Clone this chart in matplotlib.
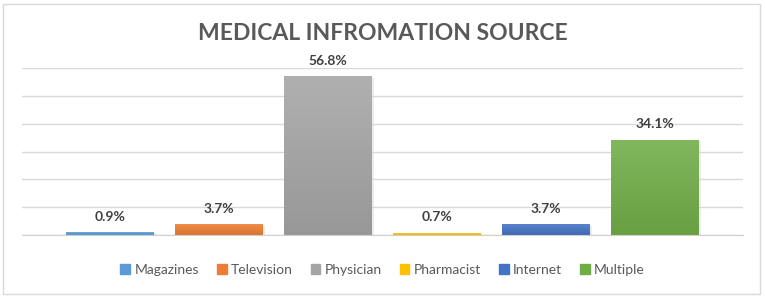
import numpy as np
import matplotlib.pyplot as plt
from matplotlib.patches import Rectangle
from matplotlib.colors import to_rgb

categories = ["Magazines", "Television", "Physician", "Pharmacist", "Internet", "Multiple"]
values = [0.9, 3.7, 56.8, 0.7, 3.7, 34.1]
labels = ["0.9%", "3.7%", "56.8%", "0.7%", "3.7%", "34.1%"]
colors = ["#5B9BD5", "#ED7D31", "#A5A5A5", "#FFC000", "#4472C4", "#70AD47"]

plt.rcParams['font.family'] = ['Lato', 'DejaVu Sans']

fig = plt.figure(figsize=(7.65, 2.98), dpi=100)
ax = fig.add_axes([22 / 765, 63 / 298, 721 / 765, 167 / 298])

x = np.arange(len(categories))
bars = ax.bar(x, values, width=0.8, color=colors, zorder=2)

# soft vertical gradient on each bar (lighter at top)
for b, c in zip(bars, colors):
    rgb = np.array(to_rgb(c))
    top = np.clip(rgb + (1 - rgb) * 0.12, 0, 1)
    bot = rgb * 0.92
    grad = np.linspace(0, 1, 64)[:, None, None]
    img = top * (1 - grad) + bot * grad
    x0, y0 = b.get_x(), b.get_y()
    ax.imshow(img, extent=(x0, x0 + b.get_width(), y0, y0 + b.get_height()),
              aspect='auto', zorder=3, interpolation='bilinear')
    ax.add_patch(Rectangle((x0 + 0.02, y0), b.get_width(), b.get_height() - 0.3,
                           color='#000000', alpha=0.08, zorder=1.5, lw=0))

for xi, v, t in zip(x, values, labels):
    ax.annotate(t, (xi, v), xytext=(0, 7), textcoords='offset points',
                ha='center', va='bottom', fontsize=10, fontweight='bold',
                color='#404040')

ax.set_xlim(-0.807, 5.807)
ax.set_ylim(0, 60)
ax.set_yticks(np.arange(0, 61, 10))
ax.yaxis.grid(True, color='#D9D9D9', linewidth=1, zorder=0)
ax.tick_params(left=False, bottom=False, labelleft=False, labelbottom=False)
for s in ['left', 'right', 'top']:
    ax.spines[s].set_visible(False)
ax.spines['bottom'].set_color('#D0D0D0')
ax.spines['bottom'].set_zorder(4)

fig.text(0.5, 1 - 33 / 298, "MEDICAL INFROMATION SOURCE", ha='center', va='center',
         fontsize=16.5, fontweight='bold', color='#595959')

handles = [Rectangle((0, 0), 1, 1, color=c) for c in colors]
fig.legend(handles, categories, loc='center', bbox_to_anchor=(0.5, 28 / 298),
           ncol=6, frameon=False, fontsize=10, handlelength=0.7, handleheight=0.7,
           handletextpad=0.3, columnspacing=1.3, labelcolor='#595959')

fig.patches.append(Rectangle((3 / 765, 4 / 298), 757 / 765, 290 / 298,
                             transform=fig.transFigure, fill=False,
                             edgecolor='#D9D9D9', linewidth=1))

fig.savefig("out.png", dpi=100)
